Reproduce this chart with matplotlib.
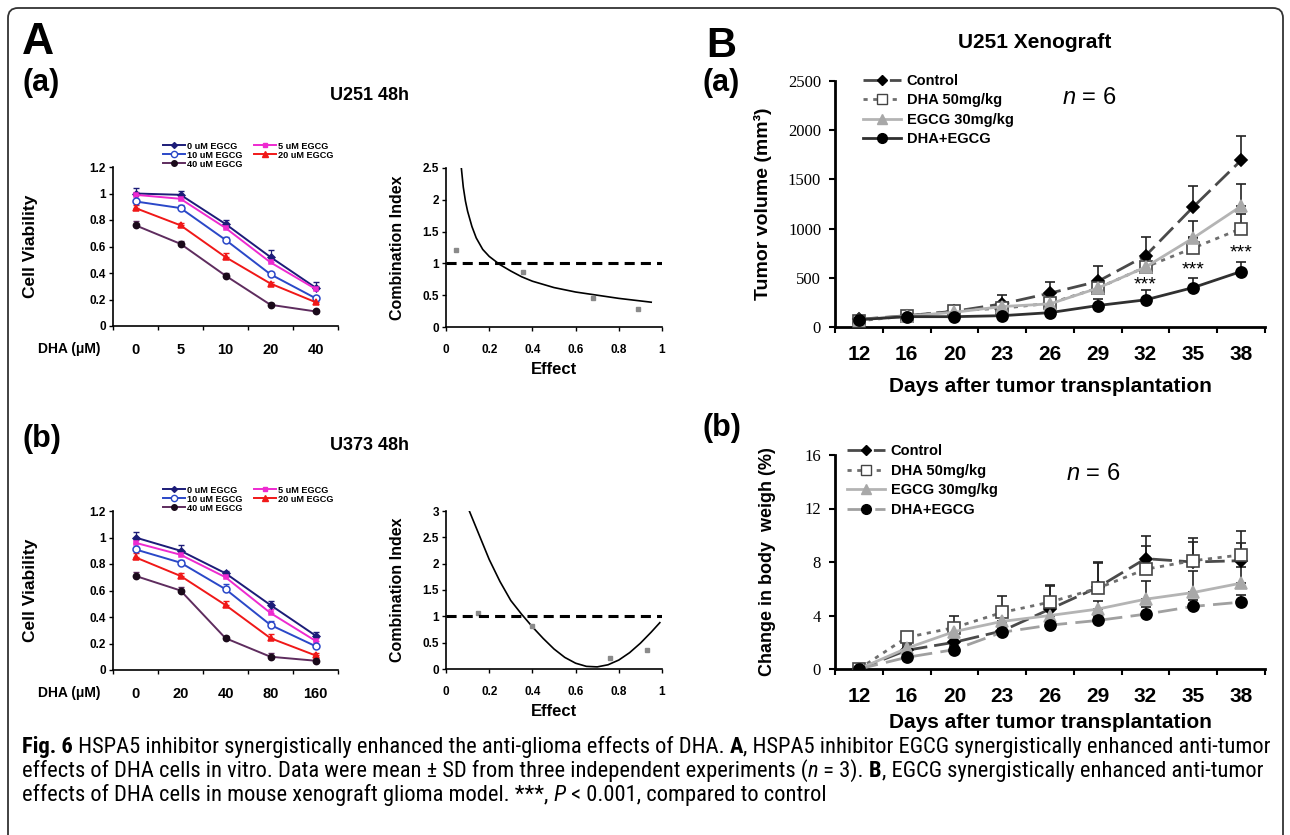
import matplotlib
matplotlib.use('Agg')
import matplotlib.pyplot as plt
from matplotlib import font_manager as fm
from matplotlib.lines import Line2D
from matplotlib.patches import FancyBboxPatch
from matplotlib.transforms import IdentityTransform
import numpy as np

plt.rcParams['font.family'] = ['Liberation Sans', 'DejaVu Sans']
plt.rcParams['mathtext.fontset'] = 'custom'
plt.rcParams['mathtext.it'] = 'Liberation Sans:italic'
plt.rcParams['mathtext.rm'] = 'Liberation Sans'

# ── data: A, cell viability ──
egcg_labels = ['0 uM EGCG', '5 uM EGCG', '10 uM EGCG', '20 uM EGCG', '40 uM EGCG']
dha_u251 = ['0', '5', '10', '20', '40']
dha_u373 = ['0', '20', '40', '80', '160']

u251_mean = [
    [1.00, 0.99, 0.77, 0.52, 0.29],
    [0.99, 0.96, 0.74, 0.48, 0.28],
    [0.94, 0.89, 0.65, 0.39, 0.21],
    [0.89, 0.76, 0.52, 0.32, 0.18],
    [0.76, 0.62, 0.38, 0.16, 0.11],
]
u251_sd = [
    [0.04, 0.03, 0.03, 0.05, 0.04],
    [0.02, 0.02, 0.02, 0.02, 0.02],
    [0.01, 0.02, 0.02, 0.015, 0.015],
    [0.02, 0.02, 0.03, 0.015, 0.015],
    [0.03, 0.02, 0.02, 0.01, 0.01],
]
u373_mean = [
    [1.00, 0.90, 0.73, 0.49, 0.26],
    [0.96, 0.87, 0.70, 0.43, 0.22],
    [0.91, 0.81, 0.61, 0.34, 0.18],
    [0.85, 0.71, 0.49, 0.24, 0.11],
    [0.71, 0.60, 0.24, 0.10, 0.07],
]
u373_sd = [
    [0.04, 0.04, 0.02, 0.03, 0.03],
    [0.02, 0.02, 0.02, 0.03, 0.02],
    [0.02, 0.02, 0.04, 0.03, 0.02],
    [0.03, 0.02, 0.03, 0.03, 0.02],
    [0.03, 0.03, 0.02, 0.03, 0.02],
]

# ── data: A, combination index ──
ci1_curve_x = [0.071, 0.08, 0.09, 0.10, 0.12, 0.14, 0.17, 0.20, 0.25, 0.30, 0.35, 0.40, 0.50, 0.60, 0.70, 0.80, 0.90, 0.95]
ci1_curve_y = [2.50, 2.20, 1.98, 1.82, 1.58, 1.40, 1.22, 1.11, 0.98, 0.88, 0.79, 0.72, 0.62, 0.55, 0.50, 0.45, 0.41, 0.39]
ci1_pts_x = [0.046, 0.358, 0.68, 0.89]
ci1_pts_y = [1.21, 0.865, 0.45, 0.28]

ci2_curve_x = [0.108, 0.15, 0.20, 0.25, 0.30, 0.35, 0.40, 0.45, 0.50, 0.55, 0.60, 0.65, 0.70, 0.75, 0.80, 0.85, 0.90, 0.95, 0.99]
ci2_curve_y = [3.00, 2.58, 2.08, 1.66, 1.30, 1.04, 0.80, 0.58, 0.38, 0.22, 0.11, 0.05, 0.04, 0.08, 0.17, 0.31, 0.49, 0.70, 0.88]
ci2_pts_x = [0.148, 0.40, 0.76, 0.93]
ci2_pts_y = [1.06, 0.82, 0.20, 0.36]

# ── data: B, xenograft ──
days = ['12', '16', '20', '23', '26', '29', '32', '35', '38']
groups = ['Control', 'DHA 50mg/kg', 'EGCG 30mg/kg', 'DHA+EGCG']

tv_ctrl = [78, 115, 160, 235, 344, 463, 724, 1221, 1694]
tv_dha = [62, 112, 166, 190, 241, 395, 609, 803, 1000]
tv_egcg = [75, 110, 150, 208, 235, 395, 609, 905, 1228]
tv_combo = [75, 105, 105, 115, 146, 218, 276, 401, 564]
tv_ctrl_sd = [10, 15, 30, 90, 110, 160, 190, 215, 250]
tv_dha_sd = [10, 15, 20, 30, 40, 60, 80, 110, 150]
tv_egcg_sd = [10, 15, 20, 30, 50, 60, 90, 177, 228]
tv_combo_sd = [10, 10, 15, 20, 25, 70, 100, 100, 100]
star_days = [6, 7, 8]
star_y = [430, 575, 750]

bw_ctrl = [0, 1.4, 2.0, 2.85, 4.48, 6.1, 8.25, 8.0, 8.1]
bw_dha = [0, 2.36, 3.1, 4.23, 5.0, 6.04, 7.46, 8.1, 8.53]
bw_egcg = [0, 1.55, 2.8, 3.56, 4.0, 4.48, 5.22, 5.72, 6.42]
bw_combo = [0, 0.87, 1.45, 2.75, 3.28, 3.63, 4.1, 4.68, 5.0]
bw_ctrl_sd = [0, 0.3, 0.5, 0.6, 1.7, 1.9, 1.67, 1.5, 1.3]
bw_dha_sd = [0, 0.33, 0.83, 1.2, 1.25, 1.9, 1.7, 1.66, 1.8]
bw_egcg_sd = [0, 0.3, 0.4, 0.5, 0.5, 0.6, 1.37, 1.57, 1.17]
bw_combo_sd = [0, 0.2, 0.3, 0.3, 0.3, 0.3, 0.5, 0.5, 0.5]

W, H = 1290, 835
fig = plt.figure(figsize=(W / 100, H / 100), dpi=100)


def add_ax(l, t, r, b):
    return fig.add_axes([l / W, 1 - b / H, (r - l) / W, (b - t) / H])


def ftext(x, y, s, **kw):
    return fig.text(x / W, 1 - y / H, s, **kw)


# ── A: viability panels ──
via_colors = ['#1c1c78', '#ee2ad0', '#2a48c8', '#f01818', '#5e2c5e']
via_markers = ['D', 's', 'o', '^', 'o']
via_mfc = ['#1c1c78', '#ee2ad0', 'white', '#f01818', '#1a0a1a']
via_mec = ['#1c1c78', '#ee2ad0', '#2a48c8', '#f01818', '#1a0a1a']
via_ms = [3.5, 3.5, 5, 5, 4.5]


def draw_viability(ax, means, sds, cats):
    x = np.arange(len(cats)) + 0.5
    for i in range(len(means)):
        ax.errorbar(x, means[i], yerr=[np.zeros(len(x)), sds[i]], fmt='none',
                    ecolor=via_colors[i], elinewidth=0.9, capsize=2, zorder=2)
        ax.plot(x, means[i], color=via_colors[i], lw=1.4, marker=via_markers[i],
                ms=via_ms[i], mfc=via_mfc[i], mec=via_mec[i], mew=1.1, zorder=3)
    ax.set_xlim(0, len(cats))
    ax.set_ylim(0, 1.2)
    ax.set_xticks(x)
    ax.set_xticklabels(cats, fontsize=10.5, fontweight='bold')
    ax.set_xticks(np.arange(len(cats) + 1), minor=True)
    ax.tick_params(axis='x', which='major', length=0, pad=12)
    ax.tick_params(axis='x', which='minor', length=3, width=1)
    yt = [0, 0.2, 0.4, 0.6, 0.8, 1.0, 1.2]
    ax.set_yticks(yt)
    ax.set_yticklabels(['0', '0.2', '0.4', '0.6', '0.8', '1', '1.2'], fontsize=8.5, fontweight='bold')
    ax.tick_params(axis='y', length=3, width=1, pad=2)
    for s in ['top', 'right']:
        ax.spines[s].set_visible(False)
    for s in ['left', 'bottom']:
        ax.spines[s].set_linewidth(1.2)
    order = [0, 2, 4, 1, 3]
    handles = [Line2D([], [], color=via_colors[i], lw=1.4, marker=via_markers[i], ms=via_ms[i] - 0.5,
                      mfc=via_mfc[i], mec=via_mec[i]) for i in order]
    ax.legend(handles, [egcg_labels[i] for i in order], ncol=2, loc='lower left',
              bbox_to_anchor=(0.22, 0.99), frameon=False, borderpad=0, borderaxespad=0,
              handlelength=2.4, handletextpad=0.3, labelspacing=0.0, columnspacing=1.2,
              prop={'size': 6.6, 'weight': 'bold'})


def draw_ci(ax, cx, cy, px, py, ymax, ystep):
    ax.plot(cx, cy, color='black', lw=1.2)
    ax.plot(px, py, ls='none', marker='s', ms=2.5, color='#8a8a8a')
    ax.plot([0, 1], [1, 1], color='black', lw=2.2, dashes=(3.3, 2))
    ax.set_xlim(0, 1)
    ax.set_ylim(0, ymax)
    ax.set_xticks([0, 0.2, 0.4, 0.6, 0.8, 1.0])
    ax.set_xticklabels(['0', '0.2', '0.4', '0.6', '0.8', '1'], fontsize=8.5, fontweight='bold')
    yt = np.arange(0, ymax + 0.01, ystep)
    ax.set_yticks(yt)
    ax.set_yticklabels([('%g' % v) for v in yt], fontsize=8.5, fontweight='bold')
    ax.tick_params(axis='x', length=3, width=1, pad=9)
    ax.tick_params(axis='y', length=3, width=1, pad=2)
    for s in ['top', 'right']:
        ax.spines[s].set_visible(False)
    for s in ['left', 'bottom']:
        ax.spines[s].set_linewidth(1.2)


ax1 = add_ax(113, 167, 338, 326)
draw_viability(ax1, u251_mean, u251_sd, dha_u251)
ax2 = add_ax(113, 511, 338, 670)
draw_viability(ax2, u373_mean, u373_sd, dha_u373)

ax3 = add_ax(446, 168, 662, 327)
draw_ci(ax3, ci1_curve_x, ci1_curve_y, ci1_pts_x, ci1_pts_y, 2.5, 0.5)
ax4 = add_ax(446, 511, 662, 669)
draw_ci(ax4, ci2_curve_x, ci2_curve_y, ci2_pts_x, ci2_pts_y, 3.0, 0.5)

for y0, y1 in [(326, 167), (670, 511)]:
    ftext(30, (y0 + y1) / 2, 'Cell Viability', rotation=90, ha='center', va='center',
          fontsize=12.5, fontweight='bold')
    ftext(100, y0 + 23, 'DHA (\u03bcM)', ha='right', va='center', fontsize=10, fontweight='bold')
for y0, y1 in [(327, 168), (669, 511)]:
    ftext(398, (y0 + y1) / 2, 'Combination Index', rotation=90, ha='center', va='center',
          fontsize=11.5, fontweight='bold')
    ftext(554, y0 + 43, 'Effect', ha='center', va='center', fontsize=12, fontweight='bold')

ftext(22, 22, 'A', ha='left', va='top', fontsize=32, fontweight='bold')
ftext(22, 68, '(a)', ha='left', va='top', fontsize=22, fontweight='bold')
ftext(22, 424, '(b)', ha='left', va='top', fontsize=22, fontweight='bold')
ftext(370, 96, 'U251 48h', ha='center', va='center', fontsize=13, fontweight='bold')
ftext(370, 445, 'U373 48h', ha='center', va='center', fontsize=13, fontweight='bold')

# ── B: xenograft panels ──
g_line = ['#4a4a4a', '#6e6e6e', '#b4b4b4', '#303030']
g_marker = ['D', 's', '^', 'o']
g_mfc = ['black', 'white', '#a8a8a8', 'black']
g_mec = ['black', '#444444', '#a8a8a8', 'black']
g_ms = [6.5, 8, 8, 8]
g_dash_a = [(7, 2.5), (1.5, 2), None, None]
g_dash_b = [(7, 2.5), (1.5, 2), None, (7, 3)]
g_line_b = ['#4a4a4a', '#6e6e6e', '#b4b4b4', '#a0a0a0']


def draw_xeno(ax, series, sds, ymax, yticks, colors, dashes):
    x = np.arange(len(days)) + 0.5
    for i in range(len(series)):
        ax.errorbar(x, series[i], yerr=[np.zeros(len(x)), sds[i]], fmt='none',
                    ecolor='#222222', elinewidth=1.2, capsize=3.5, capthick=1.2, zorder=2)
    for i in range(len(series)):
        ln, = ax.plot(x, series[i], color=colors[i], lw=2, marker=g_marker[i], ms=g_ms[i],
                      mfc=g_mfc[i], mec=g_mec[i], mew=1.2, zorder=3 + i * 0.1)
        if dashes[i] is not None:
            ln.set_dashes(dashes[i])
    ax.set_xlim(0, len(days))
    ax.set_ylim(0, ymax)
    ax.set_xticks(x)
    ax.set_xticklabels(days, fontsize=15, fontweight='bold')
    ax.set_xticks(np.arange(len(days) + 1), minor=True)
    ax.tick_params(axis='x', which='major', length=0, pad=13)
    ax.tick_params(axis='x', which='minor', length=4, width=1.5)
    ax.set_yticks(yticks)
    ax.set_yticklabels([str(v) for v in yticks], fontsize=12, family='Liberation Serif')
    ax.tick_params(axis='y', length=4, width=1.5, pad=6)
    for s in ['top', 'right']:
        ax.spines[s].set_visible(False)
    for s in ['left', 'bottom']:
        ax.spines[s].set_linewidth(2)


def xeno_legend(ax, colors, dashes, x0, y0):
    handles = []
    for i in range(4):
        h = Line2D([], [], color=colors[i], lw=2, marker=g_marker[i], ms=g_ms[i] - 1,
                   mfc=g_mfc[i], mec=g_mec[i])
        if dashes[i] is not None:
            h.set_dashes(dashes[i])
        handles.append(h)
    ax.legend(handles, groups, loc='upper left', bbox_to_anchor=(x0, y0), frameon=False,
              borderpad=0, borderaxespad=0, handlelength=2.6, handletextpad=0.4,
              labelspacing=0.38, prop={'size': 10.5, 'weight': 'bold'})


ax5 = add_ax(835, 81, 1265, 327)
draw_xeno(ax5, [tv_ctrl, tv_dha, tv_egcg, tv_combo],
          [tv_ctrl_sd, tv_dha_sd, tv_egcg_sd, tv_combo_sd],
          2500, [0, 500, 1000, 1500, 2000, 2500], g_line, g_dash_a)
xeno_legend(ax5, g_line, g_dash_a, 0.065, 1.03)
for d, yv in zip(star_days, star_y):
    ax5.text(d + 0.5, yv, '***', ha='center', va='center', fontsize=14)
ax5.text(0.59, 0.93, r'$\mathit{n}$ = 6', transform=ax5.transAxes, ha='center', va='center', fontsize=17)

ax6 = add_ax(835, 455, 1265, 669)
draw_xeno(ax6, [bw_ctrl, bw_dha, bw_egcg, bw_combo],
          [bw_ctrl_sd, bw_dha_sd, bw_egcg_sd, bw_combo_sd],
          16, [0, 4, 8, 12, 16], g_line_b, g_dash_b)
xeno_legend(ax6, g_line_b, g_dash_b, 0.028, 1.05)
ax6.text(0.60, 0.91, r'$\mathit{n}$ = 6', transform=ax6.transAxes, ha='center', va='center', fontsize=17)

ftext(763, 204, 'Tumor volume (mm\u00b3)', rotation=90, ha='center', va='center',
      fontsize=14, fontweight='bold')
ftext(767, 562, 'Change in body  weigh (%)', rotation=90, ha='center', va='center',
      fontsize=13, fontweight='bold')
ftext(1050, 387, 'Days after tumor transplantation', ha='center', va='center', fontsize=15, fontweight='bold')
ftext(1050, 722, 'Days after tumor transplantation', ha='center', va='center', fontsize=15, fontweight='bold')
ftext(1035, 42, 'U251 Xenograft', ha='center', va='center', fontsize=15, fontweight='bold')
ftext(706, 26, 'B', ha='left', va='top', fontsize=30, fontweight='bold')
ftext(703, 68, '(a)', ha='left', va='top', fontsize=22, fontweight='bold')
ftext(703, 413, '(b)', ha='left', va='top', fontsize=22, fontweight='bold')

# ── border ──
box = FancyBboxPatch((8, -30), 1275, H - 8 + 30, boxstyle='round,pad=0,rounding_size=10',
                     transform=IdentityTransform(), fill=False, ec='#333333', lw=1.3)
fig.add_artist(box)

# ── caption (condensed face if one is installed) ──
cap_family, cap_stretch = 'Liberation Sans', 'normal'
names = {(f.name, f.stretch) for f in fm.fontManager.ttflist}
for fam in ['Liberation Sans Narrow', 'Roboto Condensed', 'Open Sans Condensed', 'DejaVu Sans', 'Noto Sans']:
    hit = [st for (nm, st) in names if nm == fam and ('condensed' in str(st) or 'Narrow' in nm)]
    if hit:
        cap_family, cap_stretch = fam, hit[0]
        break

cap_lines = [
    [('Fig. 6', 'bold', 'normal'),
     (' HSPA5 inhibitor synergistically enhanced the anti-glioma effects of DHA. ', 'normal', 'normal'),
     ('A', 'bold', 'normal'),
     (', HSPA5 inhibitor EGCG synergistically enhanced anti-tumor', 'normal', 'normal')],
    [('effects of DHA cells in vitro. Data were mean \u00b1 SD from three independent experiments (', 'normal', 'normal'),
     ('n', 'normal', 'italic'),
     (' = 3). ', 'normal', 'normal'),
     ('B', 'bold', 'normal'),
     (', EGCG synergistically enhanced anti-tumor', 'normal', 'normal')],
    [('effects of DHA cells in mouse xenograft glioma model. ***, ', 'normal', 'normal'),
     ('P', 'normal', 'italic'),
     (' < 0.001, compared to control', 'normal', 'normal')],
]
renderer = fig.canvas.get_renderer()


def cap_kw(size, weight, style):
    return dict(fontsize=size, fontweight=weight, fontstyle=style,
                family=[cap_family, 'DejaVu Sans'], fontstretch=cap_stretch)


def piece_width(s, size, weight, style):
    t1 = fig.text(0, 0, 'x' + s + 'x', **cap_kw(size, weight, style))
    t2 = fig.text(0, 0, 'xx', **cap_kw(size, weight, style))
    w = t1.get_window_extent(renderer).width - t2.get_window_extent(renderer).width
    t1.remove()
    t2.remove()
    return w


base = 12
w_line1 = sum(piece_width(s, base, wt, st) for s, wt, st in cap_lines[0])
cap_size = min(16.2, base * (1262 - 22) / w_line1)
for k, parts in enumerate(cap_lines):
    x = 22
    y = 753 + k * 24
    for s, wt, st in parts:
        ftext(x, y, s, ha='left', va='baseline', **cap_kw(cap_size, wt, st))
        x += piece_width(s, cap_size, wt, st)

fig.savefig('out.png', dpi=100)
